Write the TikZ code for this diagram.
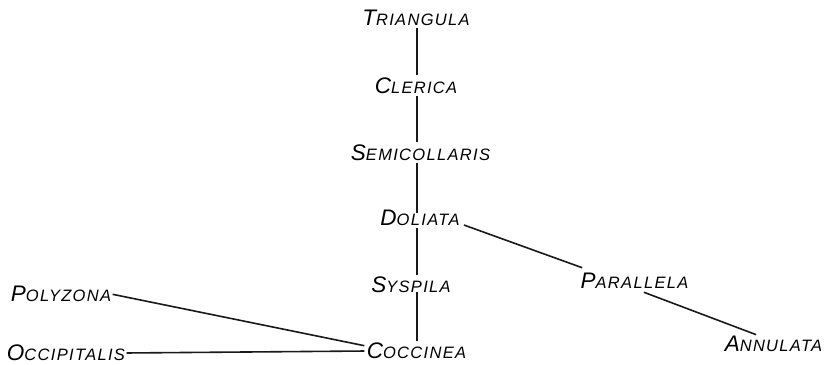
\documentclass[tikz,border=0pt]{standalone}
\usepackage{fontspec}
\setmainfont{Liberation Sans}
\usetikzlibrary{calc}
\newcommand{\spname}[2]{{\itshape\addfontfeatures{LetterSpace=8}\fontsize{22.5}{22.5}\selectfont #1\fontsize{16.5}{16.5}\selectfont #2}}
\begin{document}
\begin{tikzpicture}[x=1pt,y=-1pt,
  lbl/.style={inner sep=1pt, outer sep=0pt},
  link/.style={line width=1.6pt, black!90, shorten <=1.5pt, shorten >=1.5pt}]
\useasboundingbox (0,0) rectangle (837,364);
\coordinate (spine) at (417,0);
\node[lbl] (tri) at (416,18) {\spname{T}{RIANGULA}};
\node[lbl] (cle) at (416,85.5) {\spname{C}{LERICA}};
\node[lbl] (sem) at (420.5,152.5) {\spname{S}{EMICOLLARIS}};
\node[lbl] (dol) at (420,217.5) {\spname{D}{OLIATA}};
\node[lbl] (sys) at (411,285) {\spname{S}{YSPILA}};
\node[lbl] (coc) at (416.5,351) {\spname{C}{OCCINEA}};
\node[lbl] (par) at (634.5,281) {\spname{P}{ARALLELA}};
\node[lbl] (ann) at (773.5,344) {\spname{A}{NNULATA}};
\node[lbl] (pol) at (61,294) {\spname{P}{OLYZONA}};
\node[lbl] (occ) at (66,353) {\spname{O}{CCIPITALIS}};
\draw[link] (tri.south -| spine) -- (cle.north -| spine);
\draw[link] (cle.south -| spine) -- (sem.north -| spine);
\draw[link] (sem.south -| spine) -- ([yshift=-6pt]dol.north -| spine);
\draw[link] (dol.south -| spine) -- (sys.north -| spine);
\draw[link] ([yshift=3pt]sys.south -| spine) -- (coc.north -| spine);
\draw[link] ([xshift=2pt,yshift=-7pt]dol.east) -- ([xshift=4pt,yshift=4pt]par.north west);
\draw[link] ([xshift=8pt,yshift=-2pt]par.south) -- ([xshift=-16pt]ann.north);
\draw[link] ([xshift=-1pt]pol.east) -- ([yshift=5pt]coc.west);
\draw[link] ([xshift=-1pt]occ.east) -- (coc.west);
\end{tikzpicture}
\end{document}
